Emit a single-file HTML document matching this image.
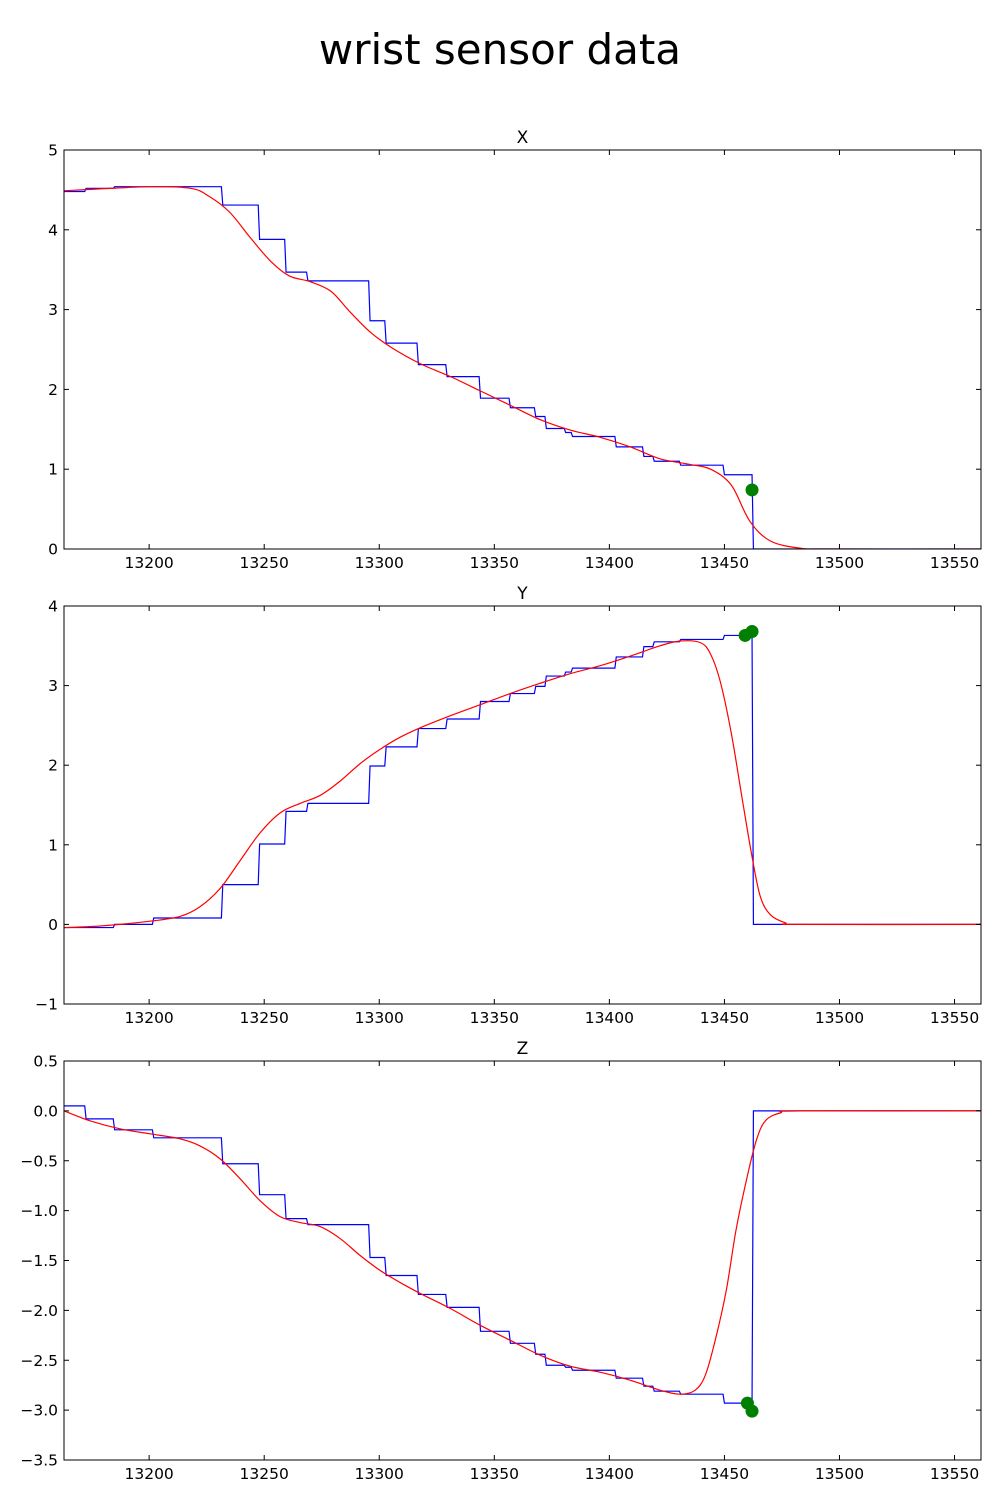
<!DOCTYPE html>
<html><head><meta charset="utf-8"><style>
body{margin:0;background:#fff;}
svg text{font-family:"DejaVu Sans","Liberation Sans",sans-serif;}
</style></head><body>
<svg id="chart" width="1000" height="1500" xmlns="http://www.w3.org/2000/svg">
<rect width="1000" height="1500" fill="#fff"/>
<text x="500" y="64" font-size="42" text-anchor="middle">wrist sensor data</text>
</svg>
<script>
// shared x tick labels
const xTicks = [13200,13250,13300,13350,13400,13450,13500,13550];
// step change times (shared by all series)
const stepT = [13163,13172.6,13185,13202,13232,13248,13259.5,13269,13296,13303,13317,13329.5,13344,13357,13368,13372.6,13381,13384,13403,13415,13419.5,13431,13450,13462.6];
// X raw step values
const xStepV = [4.48,4.52,4.54,4.54,4.31,3.88,3.47,3.36,2.86,2.58,2.31,2.16,1.89,1.77,1.66,1.51,1.46,1.41,1.28,1.16,1.10,1.05,0.93,0];
// X smoothed
const xSmoothT = [13163,13200,13218,13226,13235,13244,13253,13261,13270,13279,13287,13296,13305,13318,13331,13344,13357,13370,13383,13396,13409,13422,13435,13444,13453,13461,13470,13483,13496,13562];
const xSmoothV = [4.49,4.54,4.52,4.42,4.22,3.90,3.60,3.42,3.35,3.23,2.98,2.72,2.53,2.32,2.16,1.98,1.80,1.62,1.49,1.40,1.28,1.13,1.06,1.00,0.80,0.35,0.10,0.01,0,0];
const xDotT = [13462];
const xDotV = [0.74];
// Y raw step values
const yStepV = [-0.04,-0.04,0.0,0.08,0.50,1.01,1.42,1.52,1.99,2.23,2.46,2.58,2.80,2.90,2.99,3.12,3.17,3.22,3.36,3.49,3.55,3.58,3.63,0];
// Y smoothed
const ySmoothT = [13163,13178.7,13200.4,13213.4,13222,13230.8,13239.5,13248.2,13256.9,13265.6,13274.3,13283,13291.7,13300.4,13309,13317.8,13330.8,13343.9,13356.9,13370,13383,13396,13409,13422,13430.8,13439.5,13443.9,13448.2,13453,13457.6,13462,13465.6,13470,13476.5,13483,13562];
const ySmoothV = [-0.04,-0.02,0.04,0.10,0.22,0.45,0.80,1.15,1.40,1.52,1.62,1.80,2.02,2.20,2.35,2.47,2.62,2.76,2.90,3.03,3.15,3.25,3.37,3.50,3.56,3.54,3.40,3.05,2.40,1.60,0.85,0.35,0.12,0.02,0,0];
const yDotT = [13459,13462];
const yDotV = [3.63,3.68];
// Z raw step values
const zStepV = [0.05,-0.08,-0.19,-0.27,-0.53,-0.84,-1.08,-1.14,-1.47,-1.65,-1.84,-1.97,-2.21,-2.33,-2.44,-2.55,-2.57,-2.60,-2.68,-2.76,-2.81,-2.84,-2.93,0];
// Z smoothed
const zSmoothT = [13163,13174.3,13187.3,13200.4,13213.4,13222,13230.8,13239.5,13248.2,13256.9,13265.6,13274.3,13283,13291.7,13300.4,13309,13317.8,13330.8,13343.9,13356.9,13370,13383,13396,13409,13422,13430.8,13437.3,13441.7,13446,13450.8,13455,13459.5,13463.8,13467.8,13474.3,13483,13562];
const zSmoothV = [0.0,-0.10,-0.18,-0.23,-0.28,-0.35,-0.48,-0.68,-0.90,-1.06,-1.12,-1.16,-1.28,-1.45,-1.60,-1.72,-1.83,-1.98,-2.15,-2.30,-2.45,-2.56,-2.62,-2.70,-2.80,-2.84,-2.80,-2.65,-2.30,-1.80,-1.20,-0.70,-0.30,-0.10,-0.02,0,0];
const zDotT = [13460,13462];
const zDotV = [-2.93,-3.01];

const yTicksX = [0,1,2,3,4,5];
const yTicksY = [-1,0,1,2,3,4];
const yTicksZ = [-3.5,-3.0,-2.5,-2.0,-1.5,-1.0,-0.5,0.0,0.5];

const NS = "http://www.w3.org/2000/svg";
const svg = document.getElementById('chart');
const X0 = 13163, X1 = 13561.5, L = 64, R = 981;
function sx(t){ return L + (t - X0) / (X1 - X0) * (R - L); }
function mk(tag, attrs, parent){ const e = document.createElementNS(NS, tag); for (const k in attrs) e.setAttribute(k, attrs[k]); (parent||svg).appendChild(e); return e; }
function smoothPath(p){
  let d = 'M' + p[0][0] + ' ' + p[0][1];
  for (let i = 0; i < p.length - 1; i++) {
    const p0 = p[Math.max(0, i - 1)], p1 = p[i], p2 = p[i + 1], p3 = p[Math.min(p.length - 1, i + 2)];
    const c1x = p1[0] + (p2[0] - p0[0]) / 6, c1y = p1[1] + (p2[1] - p0[1]) / 6;
    const c2x = p2[0] - (p3[0] - p1[0]) / 6, c2y = p2[1] - (p3[1] - p1[1]) / 6;
    d += ' C' + c1x + ' ' + c1y + ' ' + c2x + ' ' + c2y + ' ' + p2[0] + ' ' + p2[1];
  }
  return d;
}

function panel(name, title, top, bottom, vmin, vmax, yt, dec, stepV, sT, sV, dT, dV){
  const g = mk('g', {});
  
  
  const sy = v => bottom - (v - vmin) / (vmax - vmin) * (bottom - top);
  const cid = 'clip-' + name;
  const cp = mk('clipPath', {id: cid}, g);
  mk('rect', {x: L, y: top, width: R - L, height: bottom - top}, cp);
  let d = '';
  for (let i = 0; i < stepV.length; i++) {
    const t = stepT[i];
    d += (i === 0 ? 'M' : ' L') + sx(t) + ' ' + sy(stepV[i]);
    const tn = i + 1 < stepT.length ? stepT[i + 1] - 0.6 : X1;
    d += ' L' + sx(tn) + ' ' + sy(stepV[i]);
  }
  const raw = mk('path', {d: d, fill: 'none', stroke: '#0000ff', 'stroke-width': 1.2, 'clip-path': 'url(#' + cid + ')'}, g);
  
  
  const pts = sT.map((t, i) => [sx(t), sy(sV[i])]);
  const sm = mk('path', {d: smoothPath(pts), fill: 'none', stroke: '#ff0000', 'stroke-width': 1.2, 'clip-path': 'url(#' + cid + ')'}, g);
  
  
  dT.forEach((t, i) => {
    const c = mk('circle', {cx: sx(t), cy: sy(dV[i]), r: 6.5, fill: '#008000'}, g);
    
    
  });
  const fr = mk('rect', {x: L, y: top, width: R - L, height: bottom - top, fill: 'none', stroke: '#000', 'stroke-width': 1}, g);
  
  
  xTicks.forEach(t => {
    const x = sx(t);
    mk('line', {x1: x, y1: bottom, x2: x, y2: bottom - 5, stroke: '#000'}, g);
    mk('line', {x1: x, y1: top, x2: x, y2: top + 5, stroke: '#000'}, g);
    const tx = mk('text', {x: x, y: bottom + 19, 'font-size': 15.5, 'text-anchor': 'middle'}, g);
    tx.textContent = t;
    
    
  });
  yt.forEach(v => {
    const y = sy(v);
    mk('line', {x1: L, y1: y, x2: L + 5, y2: y, stroke: '#000'}, g);
    mk('line', {x1: R, y1: y, x2: R - 5, y2: y, stroke: '#000'}, g);
    const tx = mk('text', {x: 58, y: y + 5.5, 'font-size': 15.5, 'text-anchor': 'end'}, g);
    tx.textContent = v < 0 ? '\u2212' + Math.abs(v).toFixed(dec) : v.toFixed(dec);
    
    
  });
  const tt = mk('text', {x: (L + R) / 2, y: top - 7, 'font-size': 17, 'text-anchor': 'middle'}, g);
  tt.textContent = title;
  
  
}
panel('x', 'X', 150, 549, 0, 5, yTicksX, 0, xStepV, xSmoothT, xSmoothV, xDotT, xDotV);
panel('y', 'Y', 606, 1004, -1, 4, yTicksY, 0, yStepV, ySmoothT, ySmoothV, yDotT, yDotV);
panel('z', 'Z', 1061, 1460, -3.5, 0.5, yTicksZ, 1, zStepV, zSmoothT, zSmoothV, zDotT, zDotV);
</script>
</body></html>
